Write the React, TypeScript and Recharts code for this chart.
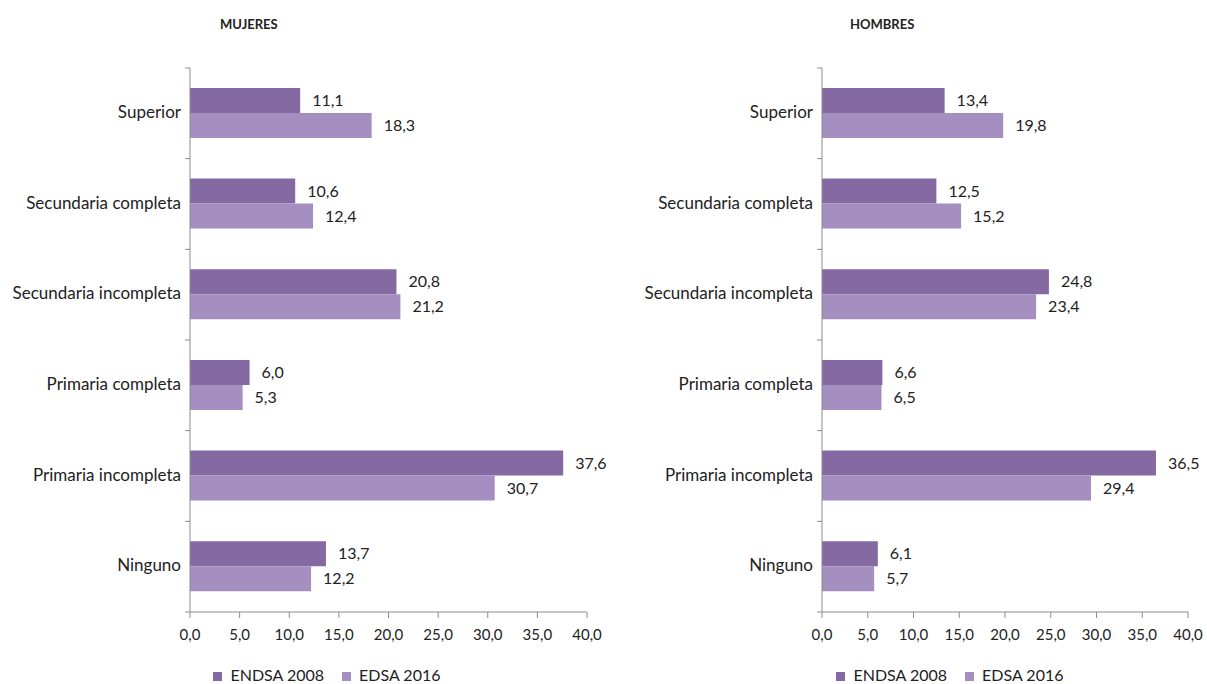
import { BarChart, Bar, XAxis, YAxis, Legend, LabelList } from "recharts"

const categories = [
  "Superior",
  "Secundaria completa",
  "Secundaria incompleta",
  "Primaria completa",
  "Primaria incompleta",
  "Ninguno",
]
const mujeres2008 = [11.1, 10.6, 20.8, 6.0, 37.6, 13.7]
const mujeres2016 = [18.3, 12.4, 21.2, 5.3, 30.7, 12.2]
const hombres2008 = [13.4, 12.5, 24.8, 6.6, 36.5, 6.1]
const hombres2016 = [19.8, 15.2, 23.4, 6.5, 29.4, 5.7]
const xTicks = [0, 5, 10, 15, 20, 25, 30, 35, 40]

const DARK = "#8569a3"
const LIGHT = "#a58fc1"
const AXIS = "#8c8c8c"
const FONT = "Lato, 'Noto Sans', sans-serif"

const fmt = (v: number) => v.toFixed(1).replace(".", ",")

function CatTick(props: any) {
  const { x, y, payload, index, visibleTicksCount } = props
  const half = payload && payload.offset ? payload.offset : 45.33
  const ax = x + 9
  return (
    <g>
      <text x={x} y={y} dy="0.28em" textAnchor="end" fontSize={17} fill="#222" fontFamily={FONT}>
        {payload.value}
      </text>
      <line x1={ax - 5} x2={ax} y1={y - half} y2={y - half} stroke={AXIS} />
      {index === visibleTicksCount - 1 && (
        <line x1={ax - 5} x2={ax} y1={y + half} y2={y + half} stroke={AXIS} />
      )}
    </g>
  )
}

function Panel(props: { a: number[]; b: number[]; width: number; yWidth: number; rightMargin: number; legendLeft: number }) {
  const data = categories.map((name, i) => ({ name, a: props.a[i], b: props.b[i] }))
  return (
    <BarChart
      width={props.width}
      height={684}
      data={data}
      layout="vertical"
      margin={{ top: 68, right: props.rightMargin, bottom: 0, left: 0 }}
      barCategoryGap="22%"
      barGap={0}
      style={{ fontFamily: FONT }}
    >
      <XAxis
        type="number"
        domain={[0, 40]}
        ticks={xTicks}
        tickFormatter={fmt}
        height={72}
        stroke={AXIS}
        tickSize={6}
        tickMargin={11}
        tick={{ fill: "#222", fontSize: 15 }}
        interval={0}
      />
      <YAxis
        type="category"
        dataKey="name"
        width={props.yWidth}
        stroke={AXIS}
        tickLine={false}
        tickSize={0}
        tickMargin={9}
        tick={<CatTick />}
        interval={0}
      />
      <Legend
        layout="horizontal"
        verticalAlign="middle"
        align="center"
        iconType="square"
        iconSize={9}
        itemSorter="dataKey"
        wrapperStyle={{ top: 665, left: props.legendLeft, width: 280, textAlign: "left", fontSize: 16 }}
        formatter={(v: string) => <span style={{ color: "#222", marginLeft: 4, marginRight: 8 }}>{v}</span>}
      />
      <Bar dataKey="a" name="ENDSA 2008" fill={DARK} isAnimationActive={false}>
        <LabelList dataKey="a" position="right" offset={12} formatter={(v: any) => fmt(Number(v))} fill="#222" fontSize={16} />
      </Bar>
      <Bar dataKey="b" name="EDSA 2016" fill={LIGHT} isAnimationActive={false}>
        <LabelList dataKey="b" position="right" offset={12} formatter={(v: any) => fmt(Number(v))} fill="#222" fontSize={16} />
      </Bar>
    </BarChart>
  )
}

export default function App() {
  return (
    <div style={{ position: "absolute", left: 0, top: 0, width: 1207, height: 684, background: "#fff", fontFamily: FONT }}>
      <div style={{ position: "absolute", left: 220, top: 16, fontSize: 13, fontWeight: 700, color: "#222" }}>MUJERES</div>
      <div style={{ position: "absolute", left: 850, top: 16, fontSize: 13, fontWeight: 700, color: "#222" }}>HOMBRES</div>
      <div style={{ position: "absolute", left: 0, top: 0 }}>
        <Panel a={mujeres2008} b={mujeres2016} width={620} yWidth={190} rightMargin={33} legendLeft={196} />
      </div>
      <div style={{ position: "absolute", left: 607, top: 0 }}>
        <Panel a={hombres2008} b={hombres2016} width={600} yWidth={215} rightMargin={19} legendLeft={212} />
      </div>
    </div>
  )
}
